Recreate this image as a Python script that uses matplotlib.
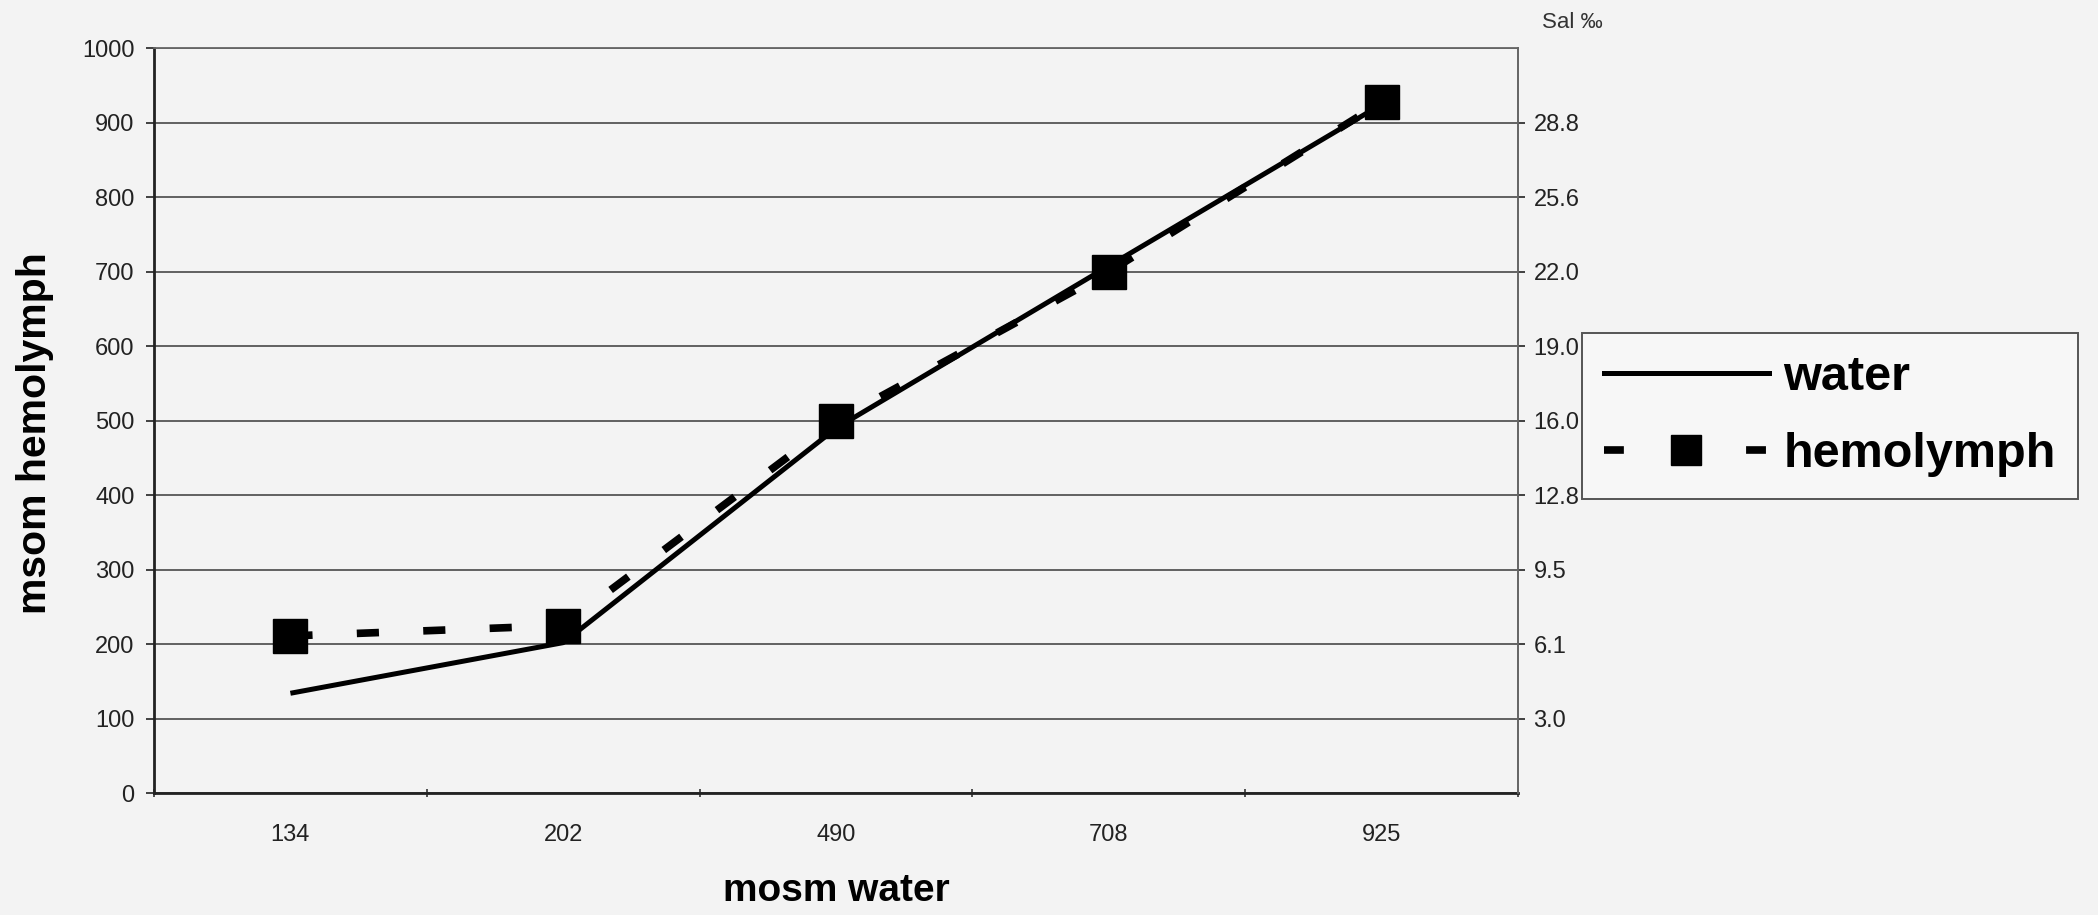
import numpy as np
import matplotlib.pyplot as plt
from matplotlib.lines import Line2D

# --- Dati ---
water_cats = ['134', '202', '490', '708', '925']
water = [134, 202, 490, 708, 925]
hemolymph = [211, 225, 500, 700, 928]
sal_pos = [100, 200, 300, 400, 500, 600, 700, 800, 900]
sal_labels = ['3.0', '6.1', '9.5', '12.8', '16.0', '19.0', '22.0', '25.6', '28.8']

plt.rcParams['font.family'] = ['Liberation Sans', 'DejaVu Sans']
bg = '#f3f3f3'

fig = plt.figure(figsize=(20.98, 9.15), dpi=100, facecolor=bg)
ax = fig.add_axes([0.0734, 0.1333, 0.6502, 0.8137])
ax.set_facecolor(bg)

x = np.arange(len(water_cats))

# --- Serie ---
ax.plot(x, water, color='black', lw=3.6, solid_capstyle='butt', zorder=3)
ax.plot(x, hemolymph, color='black', lw=5.5, dashes=(2.9, 5.8),
        dash_capstyle='butt', marker='s', markersize=25,
        markerfacecolor='black', markeredgecolor='black', zorder=4)

# --- Assi ---
ax.set_xlim(-0.5, len(water_cats) - 0.5)
ax.set_ylim(0, 1000)
ax.set_yticks(np.arange(0, 1001, 100))
ax.tick_params(axis='y', labelsize=17, length=6, width=1.2, pad=8, colors='#222222')
ax.set_xticks(x)
ax.set_xticklabels(water_cats)
ax.set_xticks(np.arange(-0.5, len(water_cats)), minor=True)
ax.tick_params(axis='x', which='major', length=0, labelsize=17, pad=22, colors='#222222')
ax.tick_params(axis='x', which='minor', length=6, width=1.2, direction='inout', color='#333333')

ax.yaxis.grid(True, color='#555555', lw=1.3)
ax.set_axisbelow(True)
for side in ['left', 'bottom']:
    ax.spines[side].set_color('#222222')
    ax.spines[side].set_linewidth(2)
for side in ['top', 'right']:
    ax.spines[side].set_color('#666666')
    ax.spines[side].set_linewidth(1.3)

ax.set_ylabel('msom hemolymph', fontsize=29.5, fontweight='bold')
ax.yaxis.set_label_coords(-0.073, 0.484)
ax.set_xlabel('mosm water', fontsize=28, fontweight='bold', labelpad=20)

# asse destro con la salinita
ax2 = ax.twinx()
ax2.set_ylim(ax.get_ylim())
ax2.set_yticks(sal_pos)
ax2.set_yticklabels(sal_labels)
ax2.tick_params(axis='y', labelsize=17, length=5, width=1.2, pad=6, colors='#222222')
ax2.spines['right'].set_color('#666666')
ax2.spines['right'].set_linewidth(1.3)
for side in ['left', 'top', 'bottom']:
    ax2.spines[side].set_visible(False)
ax2.text(1.0176, 1.027, 'Sal ‰', transform=ax.transAxes, fontsize=16,
         ha='left', va='baseline', color='#333333')

# --- Legenda ---
h_water = Line2D([], [], color='black', lw=3.6)
h_hemo = Line2D([], [], color='black', lw=5.5, dashes=(2.6, 16), dash_capstyle='butt',
                marker='s', markersize=21)
leg = fig.legend([h_water, h_hemo], ['water', 'hemolymph'],
                 loc='upper left', bbox_to_anchor=(0.754, 0.636),
                 prop={'size': 35, 'weight': 'bold'}, handlelength=3.4,
                 handletextpad=0.3, labelspacing=0.66, borderpad=0.45,
                 numpoints=1, fancybox=False, framealpha=1, borderaxespad=0)
leg.get_frame().set_edgecolor('#555555')
leg.get_frame().set_linewidth(1.4)
leg.get_frame().set_facecolor('#f7f7f7')

plt.savefig('out.png', dpi=100, facecolor=bg)
